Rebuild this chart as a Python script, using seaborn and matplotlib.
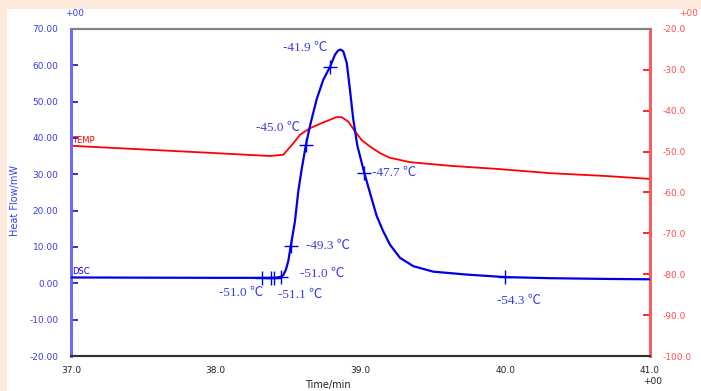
import numpy as np
import pandas as pd
import matplotlib
matplotlib.use("Agg")
import matplotlib.pyplot as plt
import matplotlib.patches as mpatches
import seaborn as sns

# ---- data ----
dsc_time = [37.0, 37.5, 38.0, 38.3, 38.42, 38.45, 38.467, 38.485, 38.501, 38.518, 38.547,
            38.570, 38.594, 38.623, 38.651, 38.697, 38.743, 38.789, 38.824, 38.845, 38.862,
            38.881, 38.905, 38.927, 38.950, 38.978, 39.026, 39.066, 39.112, 39.157, 39.204,
            39.273, 39.365, 39.503, 39.733, 40.0, 40.31, 40.7, 41.0]
dsc_value = [1.6, 1.55, 1.5, 1.5, 1.55, 1.8, 2.3, 3.8, 6.1, 10.2, 17.0,
             25.2, 31.5, 38.1, 43.3, 50.6, 56.0, 59.5, 62.9, 64.0, 64.3,
             63.8, 60.6, 53.3, 45.1, 37.9, 30.4, 24.8, 18.5, 14.3, 10.6,
             7.0, 4.7, 3.2, 2.4, 1.7, 1.4, 1.2, 1.1]

temp_time = [37.0, 37.5, 38.0, 38.375, 38.467, 38.536, 38.582, 38.651, 38.743, 38.835, 38.87,
             38.916, 38.962, 39.008, 39.066, 39.135, 39.2, 39.34, 39.62, 39.96, 40.31, 40.7, 41.0]
temp_value = [-48.6, -49.5, -50.4, -51.1, -50.8, -48.0, -45.9, -44.3, -42.9, -41.6, -41.6,
              -42.7, -45.1, -47.2, -48.8, -50.4, -51.5, -52.6, -53.5, -54.3, -55.3, -56.0, -56.7]

mark_time = [38.32, 38.38, 38.40, 38.45, 38.518, 38.623, 38.789, 39.026, 40.0]
mark_value = [1.5, 1.5, 1.5, 1.8, 10.2, 38.1, 59.5, 30.4, 1.7]
mark_label = ["-51.0 ℃", "", "-51.1 ℃", "-51.0 ℃", "-49.3 ℃", "-45.0 ℃", "-41.9 ℃", "-47.7 ℃", "-54.3 ℃"]

left_ticks = [-20, -10, 0, 10, 20, 30, 40, 50, 60, 70]
right_ticks = [-100, -90, -80, -70, -60, -50, -40, -30, -20]
x_ticks = [37.0, 38.0, 39.0, 40.0, 41.0]

# label placement (offset pixels, alignment)
label_style = [(1, -15, "right"), (0, 0, "left"), (4, -17, "left"), (19, 3, "left"),
               (15, 0, "left"), (-6, 17, "right"), (-3, 19, "right"), (8, 0, "left"),
               (-8, -24, "left")]

BLUE = "#0000E6"
LBLUE = "#3C3CE6"
RED = "#FF0000"
LRED = "#FF4D4D"
BEIGE = "#FCEBDC"

sns.set_theme(style="white")
plt.rcParams['font.family'] = ['DejaVu Sans', 'Noto Sans CJK JP']

fig = plt.figure(figsize=(7.01, 3.91), dpi=100, facecolor=BEIGE)
fig.patches.append(mpatches.Rectangle((7 / 701, 0), 1, 1 - 9 / 391, transform=fig.transFigure,
                                      facecolor="white", edgecolor="none", zorder=-5))

ax = fig.add_axes([71 / 701, 1 - 356 / 391, (650 - 71) / 701, (356 - 28.8) / 391])
ax.set_facecolor("none")
ax2 = ax.twinx()
ax2.patch.set_visible(False)

dsc = pd.DataFrame({"t": dsc_time, "v": dsc_value})
tmp = pd.DataFrame({"t": temp_time, "v": temp_value})

sns.lineplot(data=tmp, x="t", y="v", ax=ax2, color=RED, lw=1.3, sort=False)
sns.lineplot(data=dsc, x="t", y="v", ax=ax, color=BLUE, lw=1.6, sort=False, zorder=5)
ax.set_zorder(ax2.get_zorder() + 1)

ax.plot(mark_time, mark_value, ls="none", marker="+", ms=10, mew=1.0, color=BLUE, zorder=6)
for t, v, lab, (dx, dy, ha) in zip(mark_time, mark_value, mark_label, label_style):
    if lab:
        ax.annotate(lab, (t, v), xytext=(dx, dy), textcoords="offset pixels", ha=ha, va="center",
                    color=LBLUE, fontsize=9.5, family=["Liberation Serif", "Noto Sans CJK JP"])

ax.set_xlim(37.0, 41.0)
ax.set_ylim(-20, 70)
ax2.set_ylim(-100, -20)
ax.set_xticks(x_ticks)
ax.set_xticklabels([f"{x:.1f}" for x in x_ticks], fontsize=6.5, color="#222222")
ax.set_yticks(left_ticks)
ax.set_yticklabels([f"{y:.2f}" for y in left_ticks], fontsize=6.5, color=LBLUE)
ax2.set_yticks(right_ticks)
ax2.set_yticklabels([f"{y:.1f}" for y in right_ticks], fontsize=6.5, color=LRED)
ax.set_xlabel("")
ax.set_ylabel("")
ax2.set_ylabel("")

ax.tick_params(axis="y", direction="in", length=5, width=1.2, color="#1010C0", pad=9)
ax.tick_params(axis="x", direction="in", length=5, width=1.0, color="#222222", pad=7)
ax2.tick_params(axis="y", direction="in", length=5, width=1.2, color=RED, pad=9)

for a in (ax, ax2):
    a.spines["left"].set_color("#6A6AFF")
    a.spines["left"].set_linewidth(2)
    a.spines["right"].set_color("#FF5A5A")
    a.spines["right"].set_linewidth(2)
    a.spines["bottom"].set_color("#333333")
    a.spines["bottom"].set_linewidth(1.5)
    a.spines["top"].set_color("#808080")
    a.spines["top"].set_linewidth(1.5)
    a.grid(False)

ax2.text(37.005, temp_value[0] + 0.3, "TEMP", color=RED, fontsize=6, ha="left", va="bottom")
ax.text(37.005, dsc_value[0] + 0.3, "DSC", color=BLUE, fontsize=6, ha="left", va="bottom")

fig.text(15 / 701, 1 - 200 / 391, "Heat Flow/mW", rotation=90, color=LBLUE, fontsize=7,
         ha="center", va="center")
fig.text(328 / 701, 1 / 391, "Time/min", color="#222222", fontsize=7, ha="center", va="bottom")
fig.text(75 / 701, 1 - 14 / 391, "+00", color=LBLUE, fontsize=6.5, ha="center", va="center")
fig.text(689 / 701, 1 - 14 / 391, "+00", color=LRED, fontsize=6.5, ha="center", va="center")
fig.text(653 / 701, 1 - 381 / 391, "+00", color="#222222", fontsize=6.5, ha="center", va="center")

fig.savefig("out.png", dpi=100, facecolor=BEIGE)
